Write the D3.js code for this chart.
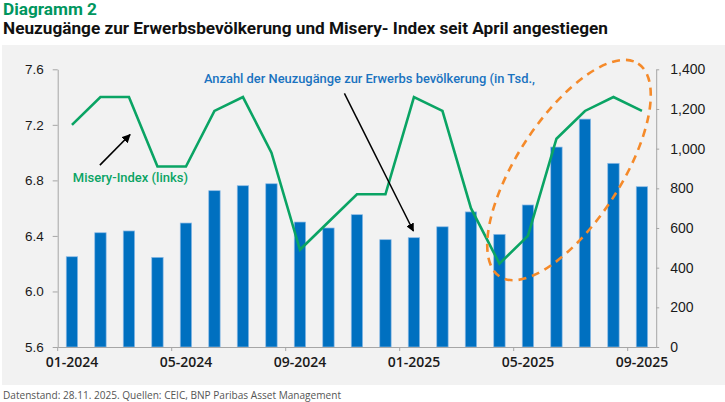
<!DOCTYPE html>
<html>
<head>
<meta charset="utf-8">
<script src="https://cdn.jsdelivr.net/npm/d3@7"></script>
<style>
  html, body { margin: 0; padding: 0; background: #fff; }
  svg { display: block; }
</style>
</head>
<body>
<div id="chart"></div>
<script>
// data
const months = ["01-2024", "02-2024", "03-2024", "04-2024", "05-2024", "06-2024", "07-2024",
  "08-2024", "09-2024", "10-2024", "11-2024", "12-2024", "01-2025", "02-2025", "03-2025",
  "04-2025", "05-2025", "06-2025", "07-2025", "08-2025", "09-2025"];
const tickMonths = ["01-2024", "05-2024", "09-2024", "01-2025", "05-2025", "09-2025"];
const neuzugaenge = [455, 576, 585, 452, 625, 788, 813, 823, 630, 600, 667, 541, 551, 606, 681,
  568, 716, 1008, 1149, 926, 808];
const misery = [7.2, 7.4, 7.4, 6.9, 6.9, 7.3, 7.4, 7.0, 6.3, 6.5, 6.7, 6.7, 7.4, 7.3, 6.6,
  6.2, 6.4, 7.1, 7.3, 7.4, 7.3];
const leftTicks = [5.6, 6.0, 6.4, 6.8, 7.2, 7.6];
const rightTicks = [0, 200, 400, 600, 800, 1000, 1200, 1400];

const W = 725, H = 402;
const plot = { left: 57.7, right: 656.2, top: 69.3, bottom: 347 };

const BLUE = "#0070c0", GREEN = "#0aa464", ORANGE = "#f58a2a", AXIS = "#a6a6a6";

const svg = d3.select("#chart").append("svg")
  .attr("width", W).attr("height", H)
  .style("font-family", "'Liberation Sans', Arial, sans-serif");

svg.append("defs").append("marker")
  .attr("id", "head")
  .attr("viewBox", "0 0 10 10")
  .attr("refX", 9).attr("refY", 5)
  .attr("markerWidth", 5.5).attr("markerHeight", 5.5)
  .attr("markerUnits", "strokeWidth")
  .attr("orient", "auto")
  .append("path").attr("d", "M0,0 L10,5 L0,10 Z").attr("fill", "#000");

// squeeze a text to a measured width
function fit(sel, width) {
  const len = sel.node().getComputedTextLength();
  if (Math.abs(len - width) > 1) sel.attr("textLength", width).attr("lengthAdjust", "spacingAndGlyphs");
  return sel;
}

// background panel
svg.append("rect").attr("x", 2).attr("y", 45).attr("width", W - 2).attr("height", 340).attr("fill", "#f2f2f2");

// titles
fit(svg.append("text").attr("x", 3).attr("y", 15)
  .style("font-family", "Roboto, sans-serif").style("font-weight", 700).style("font-size", "16px")
  .attr("fill", "#00965e").text("Diagramm 2"), 94);
fit(svg.append("text").attr("x", 3).attr("y", 34)
  .style("font-family", "Roboto, sans-serif").style("font-weight", 700).style("font-size", "16px")
  .attr("fill", "#111").text("Neuzugänge zur Erwerbsbevölkerung und Misery- Index seit April angestiegen"), 605);

// scales
const x = d3.scaleBand().domain(months).range([plot.left, plot.right])
  .paddingInner(0.6).paddingOuter(0.3);
const step = x.step();
const xc = d3.scaleLinear().domain([-0.5, months.length - 0.5]).range([plot.left, plot.right]);
const yL = d3.scaleLinear().domain([5.6, 7.6]).range([plot.bottom, plot.top]);
const yR = d3.scaleLinear().domain([0, 1400]).range([plot.bottom, plot.top]);

// bars
svg.append("g").selectAll("rect").data(neuzugaenge).join("rect")
  .attr("x", (d, i) => x(months[i]))
  .attr("y", d => yR(d))
  .attr("width", x.bandwidth())
  .attr("height", d => yR(0) - yR(d))
  .attr("fill", BLUE)
  .attr("stroke", "#8dbbe6").attr("stroke-width", 0.7);

// axes
const gL = svg.append("g").attr("transform", `translate(${plot.left},0)`)
  .call(d3.axisLeft(yL).tickValues(leftTicks).tickSizeInner(5).tickSizeOuter(0).tickPadding(9)
    .tickFormat(d3.format(".1f")));
const gR = svg.append("g").attr("transform", `translate(${plot.right},0)`)
  .call(d3.axisRight(yR).tickValues(rightTicks).tickSizeInner(3).tickSizeOuter(0).tickPadding(11)
    .tickFormat(d3.format(",")));
const gX = svg.append("g").attr("transform", `translate(0,${plot.bottom})`)
  .call(d3.axisBottom(x).tickValues(tickMonths).tickSize(0).tickSizeOuter(0).tickPadding(10));

[gL, gR, gX].forEach(g => {
  g.select(".domain").attr("stroke", AXIS);
  g.selectAll(".tick line").attr("stroke", AXIS);
  g.selectAll("text").attr("fill", "#1a1a1a").style("font-size", "14px");
});
gL.selectAll("text").style("font-size", "13.5px");
gX.selectAll("text").style("font-family", "'Open Sans', sans-serif").style("font-weight", 600)
  .style("font-size", "14px");

// month tick marks sit on the band boundaries
gX.selectAll(".edge").data(tickMonths).join("line").attr("class", "edge")
  .attr("x1", d => x(d) - step * x.paddingOuter()).attr("x2", d => x(d) - step * x.paddingOuter())
  .attr("y1", 0).attr("y2", 4).attr("stroke", AXIS);

// misery index line
svg.append("path").datum(misery)
  .attr("fill", "none").attr("stroke", GREEN).attr("stroke-width", 2.6)
  .attr("stroke-linejoin", "miter")
  .attr("d", d3.line().x((d, i) => x(months[i]) + x.bandwidth() / 2).y(d => yL(d)));

// dashed ellipse around the last months
const ring = { month: 17.44, value: 892, rx: 127, ry: 52, angle: -57 };
svg.append("ellipse")
  .attr("transform", `translate(${xc(ring.month)},${yR(ring.value)}) rotate(${ring.angle})`)
  .attr("rx", ring.rx).attr("ry", ring.ry)
  .attr("fill", "none").attr("stroke", ORANGE).attr("stroke-width", 2.6)
  .attr("stroke-dasharray", "8,6");

// arrows
const arrowL = { from: [0.98, 6.91], to: [2.04, 7.13] };
svg.append("line")
  .attr("x1", xc(arrowL.from[0])).attr("y1", yL(arrowL.from[1]))
  .attr("x2", xc(arrowL.to[0])).attr("y2", yL(arrowL.to[1]))
  .attr("stroke", "#000").attr("stroke-width", 1.6).attr("marker-end", "url(#head)");
const arrowR = { from: [9.56, 1279], to: [11.98, 585] };
svg.append("line")
  .attr("x1", xc(arrowR.from[0])).attr("y1", yR(arrowR.from[1]))
  .attr("x2", xc(arrowR.to[0])).attr("y2", yR(arrowR.to[1]))
  .attr("stroke", "#000").attr("stroke-width", 1.5).attr("marker-end", "url(#head)");

// labels
fit(svg.append("text").attr("x", xc(4.63)).attr("y", 82.5)
  .style("font-family", "Roboto, sans-serif").style("font-weight", 500).style("font-size", "13px")
  .attr("fill", "#1a73c0").text("Anzahl der Neuzugänge zur Erwerbs bevölkerung (in Tsd.,"), 331);
fit(svg.append("text").attr("x", xc(0.03)).attr("y", 181.5)
  .style("font-family", "Roboto, sans-serif").style("font-weight", 500).style("font-size", "13px")
  .attr("fill", GREEN).text("Misery-Index (links)"), 115);

// footer
fit(svg.append("text").attr("x", 3).attr("y", 399)
  .style("font-family", "'Open Sans', sans-serif").style("font-size", "10px")
  .attr("fill", "#555").text("Datenstand: 28.11. 2025. Quellen: CEIC, BNP Paribas Asset Management"), 338);
</script>
</body>
</html>
